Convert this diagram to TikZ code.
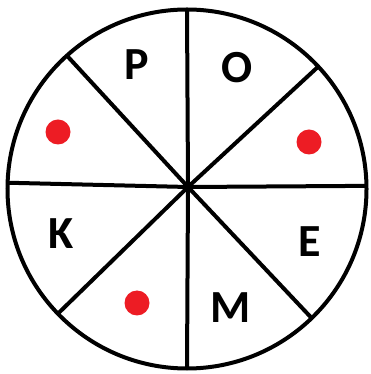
\documentclass[tikz,border=0pt]{standalone}
\usepackage{fontspec}
\setmainfont{Carlito}
\usepackage{tikz}
\usetikzlibrary{positioning, calc}
\definecolor{mydark}{RGB}{0,0,0}
\definecolor{mydot}{RGB}{237,28,36}
\tikzset{
  wheel/.style={circle, draw=mydark, minimum size=359pt, inner sep=0pt,
    outer sep=0pt, line width=4pt},
  spoke/.style={line width=4pt, color=mydark},
  letter/.style={inner sep=0pt, font=\fontsize{46}{46}\selectfont\bfseries},
  reddot/.style={circle, fill=mydot, minimum size=25pt, inner sep=0pt}
}
\begin{document}
\begin{tikzpicture}[x=1pt, y=1pt]
  \useasboundingbox (0,0) rectangle (371,374);
  \node[wheel] (wheel) at (187,185) {};
  \coordinate (hub) at (188,187);
  \foreach \a in {1,43,90,132,178,224,270,314}
    \draw[spoke] (hub) -- (wheel.\a);
  \node[letter] (lblP) at (137,309) {P};
  \node[letter] (lblO) at (237,306) {O};
  \node[letter] (lblE) at (310,132) {E};
  \node[letter] (lblM) at (231,66.5) {M};
  \node[letter] (lblK) at (61,140.5) {K};
  \node[reddot] (dotA) at (58,242) {};
  \node[reddot] (dotB) at (309,232) {};
  \node[reddot] (dotC) at (137,71) {};
\end{tikzpicture}
\end{document}
